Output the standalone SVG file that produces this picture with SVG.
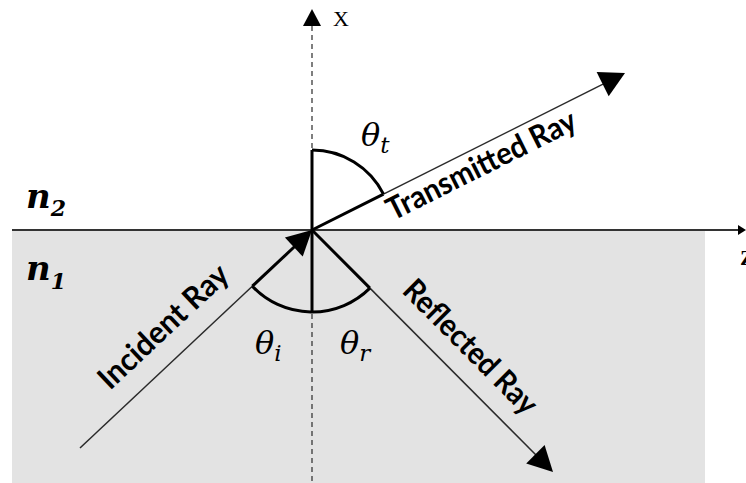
<svg xmlns="http://www.w3.org/2000/svg" width="746" height="483" viewBox="0 0 746 483">
<style>
.thin{stroke:#2a2a2a;stroke-width:1.5;fill:none}
.thick{stroke:#000;stroke-width:3;fill:none;stroke-linecap:butt}
.head{fill:#000;stroke:none}
.ray{font-family:Lato,"Liberation Sans",sans-serif;font-weight:bold;font-size:31px;fill:#000}
.math{font-family:"DejaVu Serif","Liberation Serif",serif;font-style:italic;fill:#000}
.nlab{font-family:"DejaVu Serif","Liberation Serif",serif;font-style:italic;font-weight:bold;fill:#000}
.axis{font-family:"Liberation Serif","DejaVu Serif",serif;font-size:22px;fill:#000}
</style>
<rect id="medium1" x="12" y="230" width="693" height="253" fill="#e3e3e3"/>
<g id="connectors">
  <line class="thin" x1="312" y1="26" x2="312" y2="483" stroke-dasharray="5,4" style="stroke-width:1.2"/>
  <polygon class="head" points="303,26 321,26 312,9"/>
  <line x1="12" y1="230" x2="740" y2="230" stroke="#333" stroke-width="2"/>
  <polygon class="head" points="738,225 746,230 738,235"/>
  <line class="thin" x1="80" y1="448" x2="252.3" y2="286.2"/>
  <line class="thick" x1="252.3" y1="286.2" x2="300" y2="241.5"/>
  <polygon class="head" points="312,230 302.7,256.6 284.9,237.6"/>
  <line class="thick" x1="312" y1="230" x2="369.9" y2="288.1"/>
  <line class="thin" x1="369.9" y1="288.1" x2="536" y2="455"/>
  <polygon class="head" points="553,472 526.2,463.5 544.6,445.1"/>
  <line class="thick" x1="312" y1="230" x2="383.5" y2="194.1"/>
  <line class="thin" x1="383.5" y1="194.1" x2="603" y2="84.2"/>
  <polygon class="head" points="625,73 596.6,72.1 608.7,96.3"/>
  <line class="thick" x1="312" y1="150" x2="312" y2="312"/>
  <path class="thick" d="M312,150 A80,80 0 0 1 383.5,194.1"/>
  <path class="thick" d="M252.3,286.2 A82,82 0 0 0 369.9,288.1"/>
</g>
<g id="label-x"><text class="axis" x="333" y="26">X</text></g>
<g id="label-z"><text class="axis" x="740" y="265" font-weight="bold">Z</text></g>
<g id="n2"><text class="nlab" x="26" y="208" font-size="34">n<tspan font-size="22" dy="8">2</tspan></text></g>
<g id="n1"><text class="nlab" x="26" y="280" font-size="34">n<tspan font-size="22" dy="9">1</tspan></text></g>
<g id="theta-t"><text class="math" x="361" y="146" font-size="32">θ<tspan font-size="23" dy="7">t</tspan></text></g>
<g id="theta-i"><text class="math" x="255" y="354" font-size="32">θ<tspan font-size="23" dy="7">i</tspan></text></g>
<g id="theta-r"><text class="math" x="340" y="354" font-size="32">θ<tspan font-size="23" dy="7">r</tspan></text></g>
<g id="transmitted"><text class="ray" transform="translate(393,221) rotate(-26.6)" textLength="208" lengthAdjust="spacingAndGlyphs">Transmitted Ray</text></g>
<g id="incident"><text class="ray" transform="translate(110,391) rotate(-43.2)" textLength="166" lengthAdjust="spacingAndGlyphs">Incident Ray</text></g>
<g id="reflected"><text class="ray" transform="translate(401,292) rotate(45.1)" textLength="176" lengthAdjust="spacingAndGlyphs">Reflected Ray</text></g>
</svg>
